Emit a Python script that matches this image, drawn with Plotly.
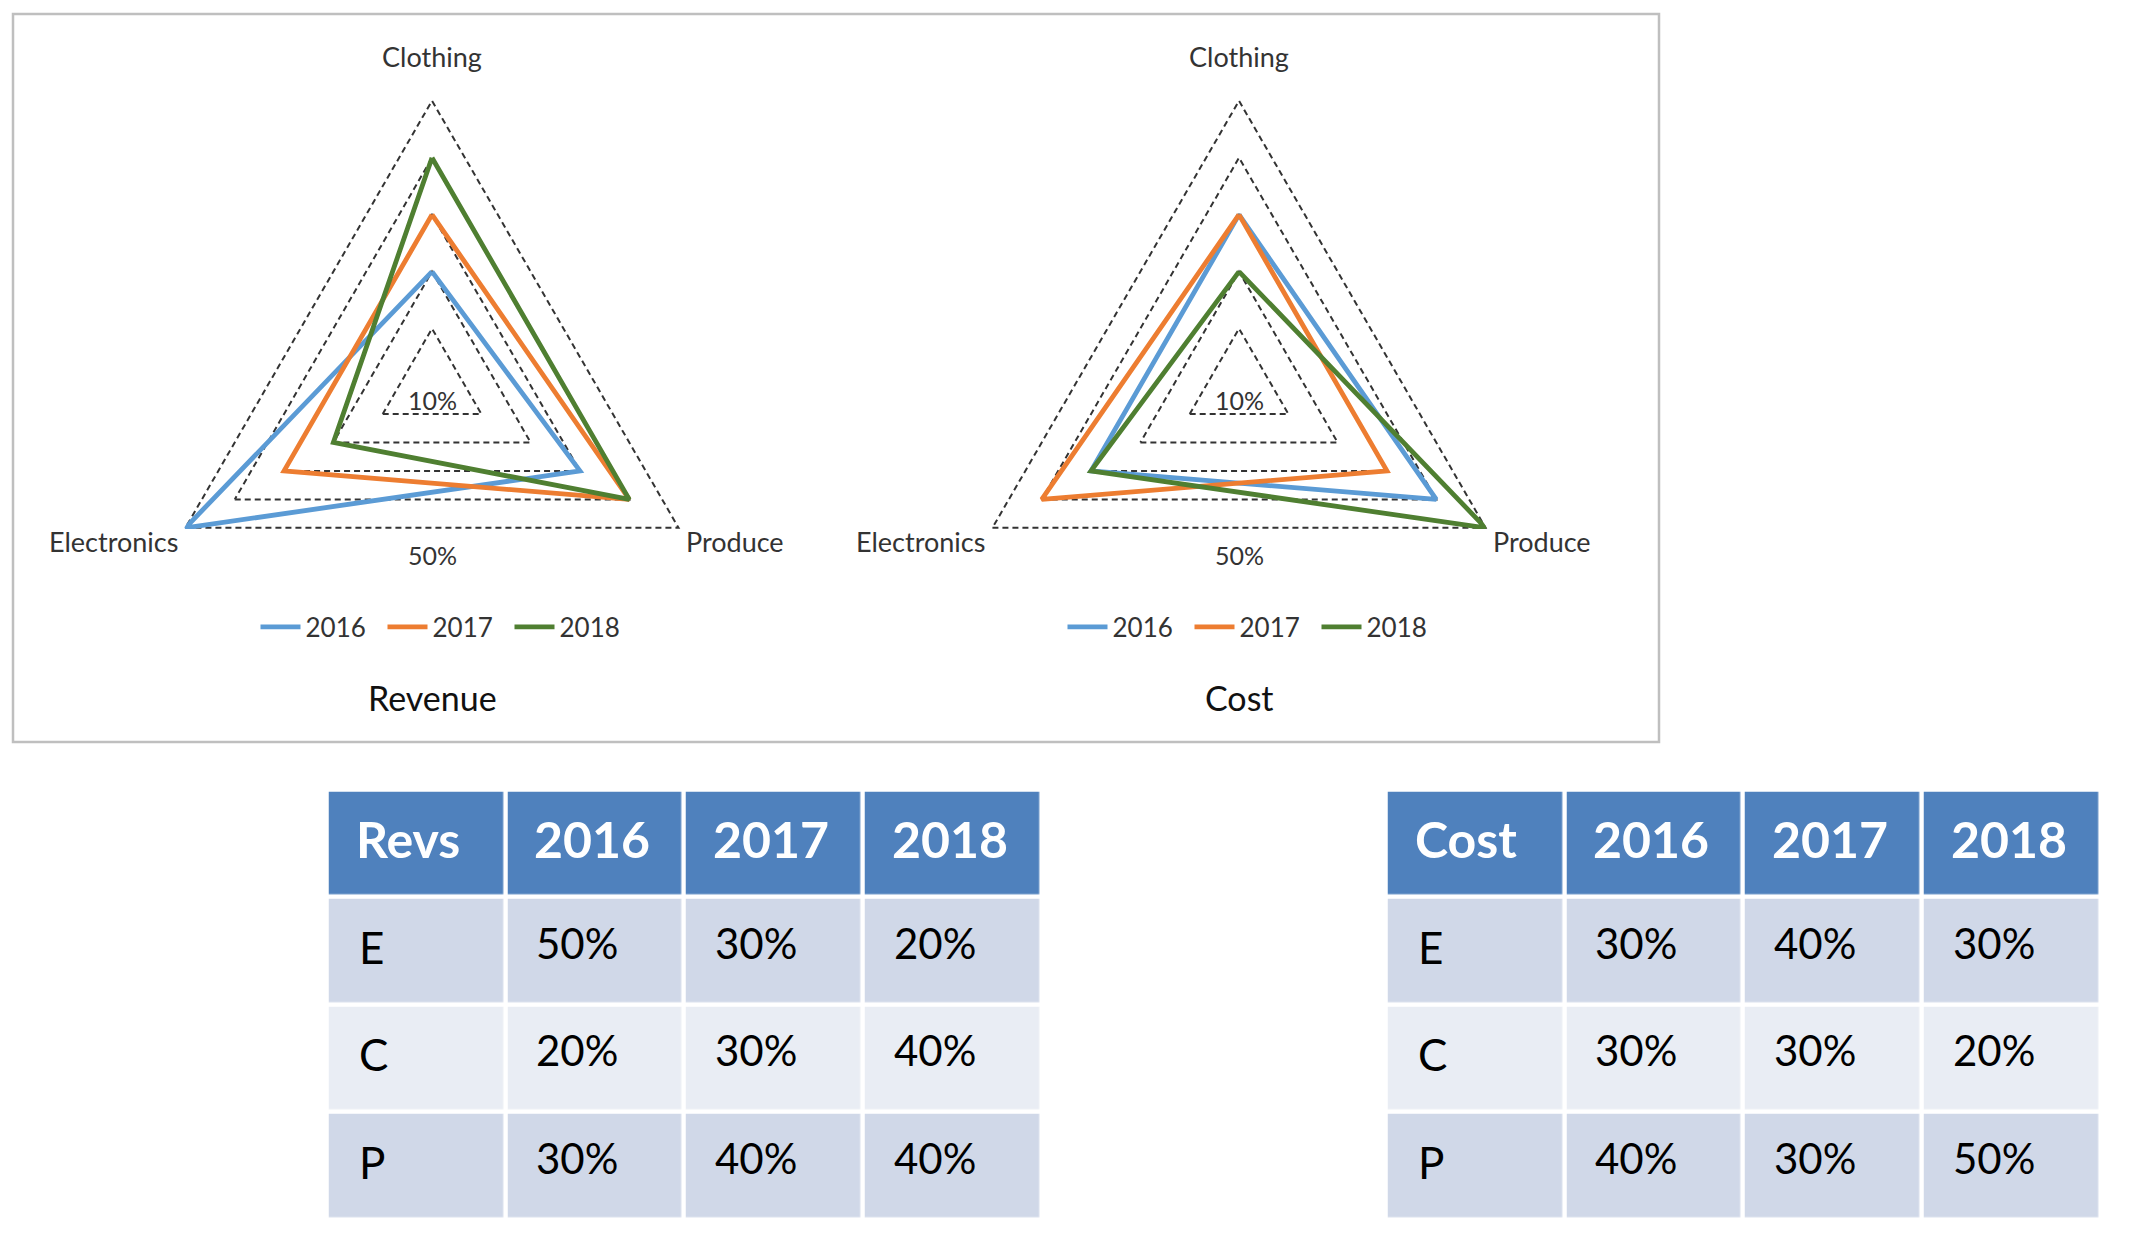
import plotly.graph_objects as go

W, H = 2151, 1239

# ---------------- data ----------------
categories = ["Clothing", "Produce", "Electronics"]
years = ["2016", "2017", "2018"]
row_labels = ["E", "C", "P"]

rev_electronics = [0.50, 0.30, 0.20]
rev_clothing = [0.20, 0.30, 0.40]
rev_produce = [0.30, 0.40, 0.40]

cost_electronics = [0.30, 0.40, 0.30]
cost_clothing = [0.30, 0.30, 0.20]
cost_produce = [0.40, 0.30, 0.50]

radial_ticks = [0.1, 0.2, 0.3, 0.4, 0.5]

colors = ["#5B9BD5", "#ED7D31", "#4F7F31"]
FONT = "Lato, Carlito, Calibri, sans-serif"
TXT = "#333333"

# ---------------- layout geometry ----------------
R = 287
centers = [(432, 385.5), (1239, 385.5)]
RMAX = 0.504


def xf(px):
    return px / W


def yf(py):
    return 1 - py / H


fig = go.Figure()

panels = [
    ("polar", "legend", rev_clothing, rev_produce, rev_electronics, "Revenue"),
    ("polar2", "legend2", cost_clothing, cost_produce, cost_electronics, "Cost"),
]

for (sub, leg, C, P, E, title) in panels:
    for i, y in enumerate(years):
        rv = [C[i], P[i], E[i], C[i]]
        th = categories + [categories[0]]
        fig.add_trace(go.Scatterpolar(
            r=rv, theta=th, mode="lines", name=y,
            line=dict(color=colors[i], width=4.8),
            subplot=sub, legend=leg, showlegend=True, hoverinfo="skip",
        ))

polar_common = dict(
    gridshape="linear",
    bgcolor="rgba(0,0,0,0)",
    radialaxis=dict(
        range=[0, RMAX], tickvals=radial_ticks, showticklabels=False,
        ticks="", showline=False, gridcolor="#333333", gridwidth=2.2,
        griddash="6px,4px",
    ),
    angularaxis=dict(
        rotation=90, direction="clockwise", showgrid=False, showline=False,
        ticks="", categoryorder="array", categoryarray=categories,
        showticklabels=False,
    ),
)

layout = dict(
    width=W, height=H, margin=dict(l=0, r=0, t=0, b=0),
    paper_bgcolor="white", plot_bgcolor="white",
    font=dict(family=FONT, color=TXT),
)
for k, (cx, cy) in enumerate(centers):
    name = "polar" if k == 0 else "polar2"
    d = dict(polar_common)
    d["domain"] = dict(x=[xf(cx - R), xf(cx + R)], y=[yf(cy + R), yf(cy - R)])
    layout[name] = d
    lname = "legend" if k == 0 else "legend2"
    layout[lname] = dict(
        orientation="h", x=xf(cx + 14), xanchor="center", y=yf(627), yanchor="middle",
        font=dict(family=FONT, size=26, color=TXT), bgcolor="rgba(0,0,0,0)",
        itemwidth=40, entrywidth=72,
        itemclick=False, itemdoubleclick=False,
    )

fig.update_layout(**layout)

annotations = []
lab_font = dict(family=FONT, size=27, color=TXT)
for k, (cx, cy) in enumerate(centers):
    half_w = R * 0.866
    # category labels around the triangle
    annotations.append(dict(x=xf(cx), y=yf(cy - R - 42), xref="paper", yref="paper",
                            text=categories[0], showarrow=False, font=lab_font,
                            xanchor="center", yanchor="middle"))
    annotations.append(dict(x=xf(cx + half_w + 3), y=yf(cy + R / 2 + 12), xref="paper", yref="paper",
                            text=categories[1], showarrow=False, font=lab_font,
                            xanchor="left", yanchor="middle"))
    annotations.append(dict(x=xf(cx - half_w - 3), y=yf(cy + R / 2 + 12), xref="paper", yref="paper",
                            text=categories[2], showarrow=False, font=lab_font,
                            xanchor="right", yanchor="middle"))
    annotations.append(dict(x=xf(cx), y=yf(cy + 15), xref="paper", yref="paper",
                            text=f"{int(radial_ticks[0] * 100)}%", showarrow=False,
                            xanchor="center", yanchor="middle",
                            font=dict(family=FONT, size=25, color=TXT)))
    annotations.append(dict(x=xf(cx), y=yf(cy + R / 2 + 26), xref="paper", yref="paper",
                            text=f"{int(radial_ticks[-1] * 100)}%", showarrow=False,
                            xanchor="center", yanchor="middle",
                            font=dict(family=FONT, size=25, color=TXT)))
    annotations.append(dict(x=xf(cx), y=yf(697), xref="paper", yref="paper",
                            text=panels[k][5], showarrow=False,
                            xanchor="center", yanchor="middle",
                            font=dict(family=FONT, size=34, color="#111111")))

fig.add_shape(type="rect", xref="paper", yref="paper",
              x0=xf(13), x1=xf(1659), y0=yf(742), y1=yf(14),
              line=dict(color="#BFBFBF", width=2.5), layer="below")

# ---------------- tables (heatmap bricks + text) ----------------
GAP = 4.5
T_TOP, T_BOT = 792, 1217


def add_table(idx, x0, x1, head, E, C, P):
    xa = f"x{idx}"
    ya = f"y{idx}"
    # style codes: 0 header, 1 dark band, 2 light band
    z = [[0, 0, 0, 0], [1, 1, 1, 1], [2, 2, 2, 2], [1, 1, 1, 1]]
    fig.add_trace(go.Heatmap(
        z=z, x=[0, 1, 2, 3], y=[0, 1, 2, 3], xaxis=xa, yaxis=ya,
        colorscale=[[0, "#4F81BD"], [0.5, "#D0D8E8"], [1, "#E9EDF4"]],
        zmin=0, zmax=2, showscale=False, xgap=GAP, ygap=GAP, hoverinfo="skip",
    ))
    ax_common = dict(visible=False, fixedrange=True)
    fig.update_layout(**{
        f"xaxis{idx}": dict(domain=[xf(x0 - GAP / 2), xf(x1 + GAP / 2)],
                            range=[-0.5, 3.5], anchor=ya, **ax_common),
        f"yaxis{idx}": dict(domain=[yf(T_BOT + GAP / 2), yf(T_TOP - GAP / 2)],
                            range=[3.5, -0.5], anchor=xa, **ax_common),
    })
    cell_w = (x1 - x0 + GAP) / 4
    anns = []
    for j, h in enumerate([head] + years):
        anns.append(dict(x=j, y=0, xref=xa, yref=ya, text=f"<b>{h}</b>",
                         showarrow=False, xanchor="left", yanchor="middle",
                         xshift=-cell_w / 2 + 27, yshift=4,
                         font=dict(family=FONT, size=50, color="white")))
    body = [E, C, P]
    for r, lab in enumerate(row_labels):
        anns.append(dict(x=0, y=r + 1, xref=xa, yref=ya, text=lab,
                         showarrow=False, xanchor="left", yanchor="middle",
                         xshift=-cell_w / 2 + 30, yshift=4,
                         font=dict(family=FONT, size=44, color="black")))
        for j in range(3):
            anns.append(dict(x=j + 1, y=r + 1, xref=xa, yref=ya,
                             text=f"{int(round(body[r][j] * 100))}%",
                             showarrow=False, xanchor="left", yanchor="middle",
                             xshift=-cell_w / 2 + 29, yshift=8,
                             font=dict(family=FONT, size=42, color="black")))
    return anns


annotations += add_table(3, 329, 1039, "Revs", rev_electronics, rev_clothing, rev_produce)
annotations += add_table(4, 1388, 2098, "Cost", cost_electronics, cost_clothing, cost_produce)

fig.update_layout(annotations=annotations)

fig.write_html("out.html", config={"displayModeBar": False},
               post_script="document.body.style.margin='0';")
